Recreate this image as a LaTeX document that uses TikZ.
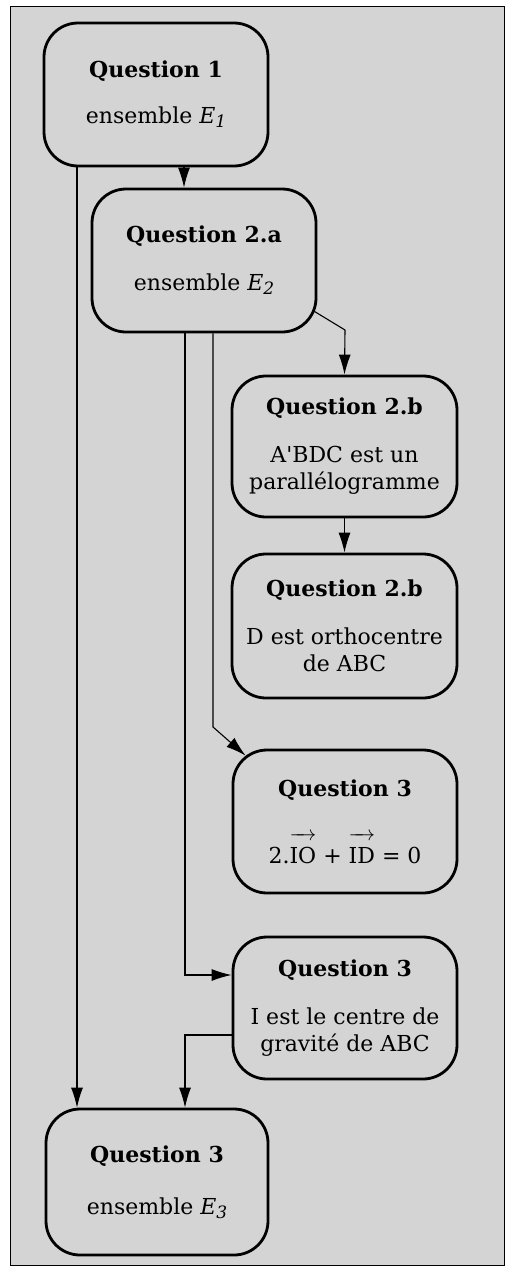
\documentclass[tikz,border=0pt]{standalone}
\usepackage{fontspec}
\setmainfont{DejaVu Serif}
\usetikzlibrary{arrows.meta}
\newcommand\Esub[1]{\textit{E}\raisebox{-0.35ex}{\fontsize{17}{17}\selectfont\textit{#1}}}
\newcommand\vecarrow[1]{\ensuremath{\overrightarrow{\rule{0pt}{1.05em}\hbox{#1}}}}
\tikzset{
  qbox/.style={draw, line width=2.8pt, rounded corners=34pt, align=center,
    inner sep=0pt, font=\fontsize{22}{27}\selectfont},
  arr/.style={line width=1.1pt, -{Latex[length=20pt,width=12pt]}},
}
\begin{document}
\begin{tikzpicture}[x=1pt,y=-1pt]
\useasboundingbox (0,0) rectangle (507,1266);
\fill[white] (0,0) rectangle (507,1266);
\draw[fill=black!17, line width=1pt] (10,6) rectangle (504,1265);

\node[qbox, minimum width=224pt, minimum height=143pt] (q1) at (156,94.5)
  {\textbf{Question 1}\\[19pt] ensemble \Esub{1}};
\node[qbox, minimum width=224pt, minimum height=143pt] (q2a) at (204,260.5)
  {\textbf{Question 2.a}\\[21pt] ensemble \Esub{2}};
\node[qbox, minimum width=225pt, minimum height=141pt] (q2b1) at (344.5,446.5)
  {\textbf{Question 2.b}\\[21pt] A\textquotesingle BDC est un\\ parallélogramme};
\node[qbox, minimum width=225pt, minimum height=144pt] (q2b2) at (344.5,626)
  {\textbf{Question 2.b}\\[21pt] D est orthocentre\\ de ABC};
\node[qbox, minimum width=224pt, minimum height=143pt] (q3a) at (345,821.5)
  {\textbf{Question 3}\\[32pt] 2.\vecarrow{IO} + \vecarrow{ID} = 0};
\node[qbox, minimum width=224pt, minimum height=142pt] (q3b) at (345,1008)
  {\textbf{Question 3}\\[21pt] I est le centre de\\ gravité de ABC};
\node[qbox, minimum width=222pt, minimum height=146pt] (q3c) at (157,1182)
  {\textbf{Question 3}\\[25pt] ensemble \Esub{3}};

\coordinate (x77) at (77,0);
\coordinate (x184) at (184,0);
\coordinate (x185) at (185,0);
\coordinate (x213) at (213,0);
\coordinate (bendA) at (345,330);
\coordinate (bendB) at (213,727);

\draw[arr] (q1.south -| x184) -- (q2a.north -| x184);
\draw[arr] (q1.south -| x77) -- (q3c.north -| x77);
\draw[arr] ([shift={(-3,-22)}]q2a.south east) -- (bendA) -- (q2b1.north);
\draw[arr] (q2b1.south) -- (q2b2.north);
\draw[arr] (q2a.south -| x213) -- (bendB) -- ([shift={(14,7)}]q3a.north west);
\draw[arr] (q2a.south -| x185) |- ([yshift=33pt]q3b.west);
\draw[arr] ([yshift=-27pt]q3b.west) -| (q3c.north -| x185);
\end{tikzpicture}
\end{document}
